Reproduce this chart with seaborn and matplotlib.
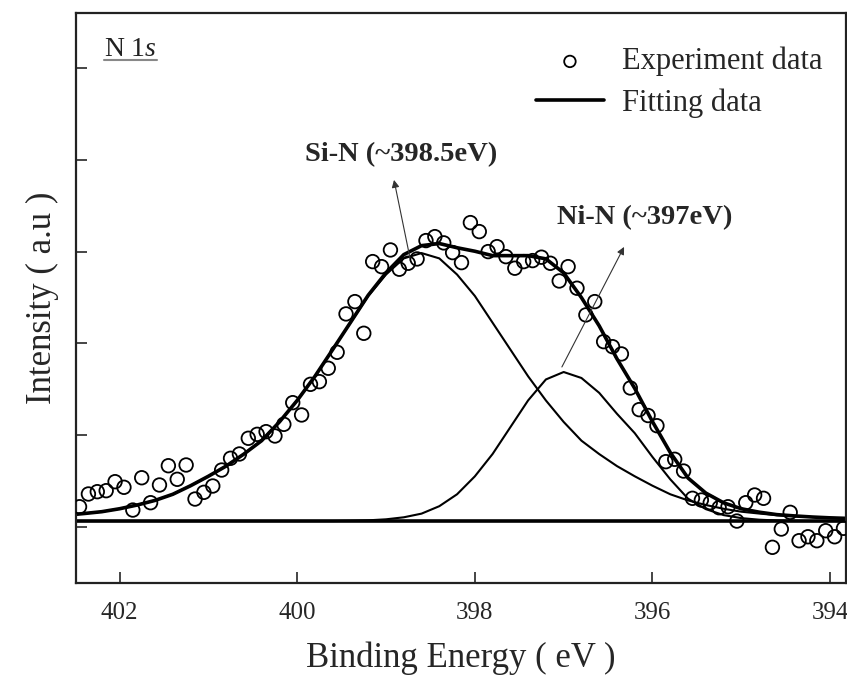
import numpy as np
import seaborn as sns
import matplotlib.pyplot as plt

# N 1s spectrum, measured every 0.1 eV
energy = np.round(402.45 - 0.1 * np.arange(87), 2)
intensity = [221, 360, 385, 396, 494, 433, 185, 537, 265, 458,
             668, 520, 676, 305, 378, 447, 621, 749, 796, 967,
             1010, 1039, 992, 1119, 1355, 1221, 1555, 1584, 1730, 1904,
             2322, 2456, 2111, 2892, 2837, 3019, 2809, 2874, 2921, 3121,
             3164, 3096, 2990, 2881, 3317, 3219, 3001, 3055, 2946, 2820,
             2892, 2903, 2940, 2874, 2681, 2837, 2602, 2311, 2456, 2020,
             1965, 1886, 1515, 1279, 1215, 1104, 712, 738, 610, 313,
             294, 265, 210, 221, 65, 265, 349, 313, -221, -22,
             160, -149, -106, -149, -40, -106, -14]

# fitted components (above baseline), read every 0.2 eV
fit_energy = np.round(402.6 - 0.2 * np.arange(46), 1)
si_n = [64, 82, 102, 134, 175, 225, 292, 385, 488, 599,
        730, 876, 1080, 1314, 1577, 1869, 2161, 2453, 2686, 2862,
        2920, 2862, 2686, 2453, 2161, 1869, 1577, 1314, 1080, 876,
        730, 599, 488, 385, 292, 225, 175, 134, 102, 82,
        64, 53, 44, 35, 29, 23]
ni_n = [0, 0, 0, 0, 0, 0, 0, 0, 0, 0,
        0, 0, 0, 0, 0, 0, 3, 8, 19, 41,
        81, 162, 292, 487, 731, 1023, 1315, 1543, 1624, 1559,
        1397, 1169, 958, 698, 455, 244, 130, 65, 32, 15,
        6, 3, 0, 0, 0, 0]
baseline = 65

x_ticks = [402, 400, 398, 396, 394]
y_ticks = [0, 1000, 2000, 3000, 4000, 5000]

sns.set_style("ticks")
plt.rcParams['font.family'] = ['Liberation Serif', 'DejaVu Serif']
plt.rcParams['mathtext.fontset'] = 'custom'
plt.rcParams['mathtext.rm'] = 'Liberation Serif'
plt.rcParams['mathtext.it'] = 'Liberation Serif:italic'

si_curve = np.array(si_n) + baseline
ni_curve = np.array(ni_n) + baseline
total = np.array(si_n) + np.array(ni_n) + baseline

fig, ax = plt.subplots(figsize=(8.47, 6.88), dpi=100)
fig.subplots_adjust(left=0.0897, right=0.999, top=0.981, bottom=0.1526)

ax.axhline(baseline, color='black', lw=2.6, zorder=2)
sns.lineplot(x=fit_energy, y=si_curve, color='black', lw=1.5, ax=ax)
sns.lineplot(x=fit_energy, y=ni_curve, color='black', lw=1.5, ax=ax)
sns.lineplot(x=fit_energy, y=total, color='black', lw=2.6, ax=ax,
             label='Fitting data')
sns.scatterplot(x=energy, y=intensity, marker='o', s=95, fc='none',
                ec='black', linewidth=1.3, ax=ax, zorder=3,
                label='Experiment data')

ax.set_xlim(402.49, 393.82)
ax.set_ylim(-610, 5600)
ax.set_xticks(x_ticks)
ax.set_yticks(y_ticks)
ax.tick_params(direction='in', length=8, width=1.2, labelsize=18,
               top=False, right=False, labelleft=False, pad=14)
for s in ax.spines.values():
    s.set_visible(True)
    s.set_linewidth(1.6)
    s.set_color('#222222')

ax.set_xlabel('Binding Energy ( eV )', fontsize=25, labelpad=12)
ax.set_ylabel('Intensity ( a.u )', fontsize=25, labelpad=12)

# legend: circle first, then line
h, l = ax.get_legend_handles_labels()
ax.legend(h[::-1], l[::-1], loc='upper right', bbox_to_anchor=(0.985, 0.962),
          frameon=False, fontsize=22, handlelength=2.2, handletextpad=0.6,
          labelspacing=0.38, borderaxespad=0, markerscale=0.85)

ax.text(0.0364, 0.9246, r'N 1$\it{s}$', transform=ax.transAxes, fontsize=20,
        va='baseline', color='#222222')
ax.plot([0.0364, 0.105], [0.9175, 0.9175], transform=ax.transAxes,
        color='#888888', lw=1.5)

ax.text(398.83, 4055, 'Si-N (~398.5eV)', fontsize=20.5, fontweight='bold',
        ha='center', va='center')
ax.annotate('', xy=(398.91, 3782), xytext=(398.73, 2932),
            arrowprops=dict(arrowstyle='-|>', color='#333333', lw=0.8,
                            shrinkA=0, shrinkB=0, mutation_scale=11))
ax.text(396.09, 3368, 'Ni-N (~397eV)', fontsize=20.5, fontweight='bold',
        ha='center', va='center')
ax.annotate('', xy=(396.32, 3052), xytext=(397.02, 1744),
            arrowprops=dict(arrowstyle='-|>', color='#333333', lw=0.8,
                            shrinkA=0, shrinkB=0, mutation_scale=11))

fig.savefig('out.png', dpi=100)
